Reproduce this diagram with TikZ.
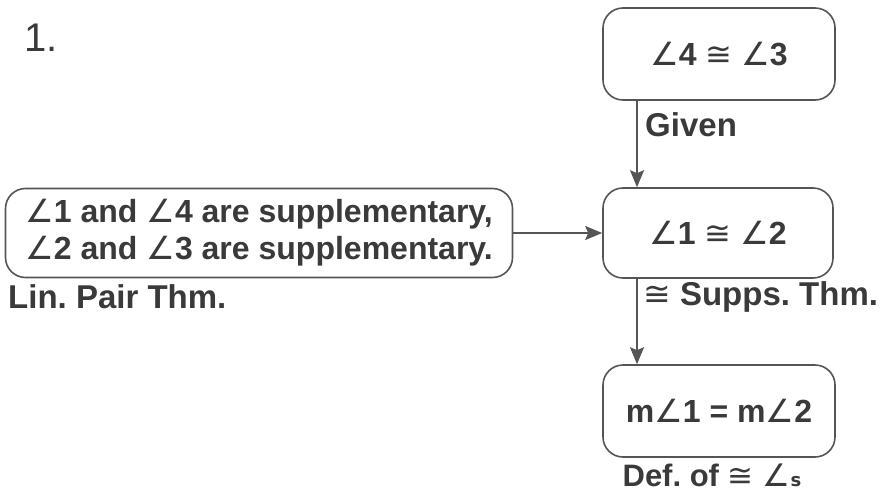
\documentclass[tikz,border=0pt]{standalone}
\usepackage{fontspec}
\setmainfont{Liberation Sans}
\newfontfamily\symf{DejaVu Sans}
\usetikzlibrary{arrows.meta}
\frenchspacing
\newcommand{\ang}{{\symf\mdseries ∠}}
\newcommand{\cng}{{\symf\mdseries ≅}}
\newcommand{\angs}{{\symf\mdseries ∠\kern0.02em\fontsize{18}{18}\selectfont\bfseries s}}
\definecolor{ink}{HTML}{3A3A3A}
\definecolor{edge}{HTML}{555555}
\begin{document}
\begin{tikzpicture}[x=1pt,y=-1pt,
  box/.style={draw=edge,line width=1.6pt,rounded corners=20pt,text=ink,font=\fontsize{32}{37}\selectfont\bfseries,align=center,inner sep=0pt},
  lbl/.style={text=ink,font=\fontsize{33}{36}\selectfont\bfseries,inner sep=0pt},
  arr/.style={draw=edge,line width=1.8pt,-{Stealth[length=17pt,width=14pt,inset=3pt]}}]
\useasboundingbox (0,0) rectangle (885,495);
\node[text=ink,font=\fontsize{40}{40}\selectfont,inner sep=0pt] (num) at (41,38) {1.};
\node[box,minimum width=232pt,minimum height=92pt] (top) at (719,54) {\ang4 \cng\ \ang3};
\node[box,minimum width=230pt,minimum height=90pt] (mid) at (718,233) {\ang1 \cng\ \ang2};
\node[box,minimum width=232pt,minimum height=92pt] (bot) at (719,411) {m\ang1 = m\ang2};
\node[box,minimum width=507pt,minimum height=89pt] (left) at (259,233) {\ang1 and \ang4 are supplementary,\\ \ang2 and \ang3 are supplementary.};
\coordinate (ax) at (637,0);
\draw[arr] (top.south -| ax) -- (mid.north -| ax);
\draw[arr] (mid.south -| ax) -- (bot.north -| ax);
\draw[arr] (left.east) -- (mid.west);
\node[lbl,anchor=west] (given) at (645,125) {Given};
\node[lbl,anchor=west] (supps) at (643,297) {\cng\ Supps. Thm.};
\node[lbl,anchor=west] (lin) at (8,297) {Lin. Pair Thm.};
\node[lbl,font=\fontsize{31}{34}\selectfont\bfseries] (def) at (712,475) {Def. of \cng\ \angs};
\end{tikzpicture}
\end{document}
